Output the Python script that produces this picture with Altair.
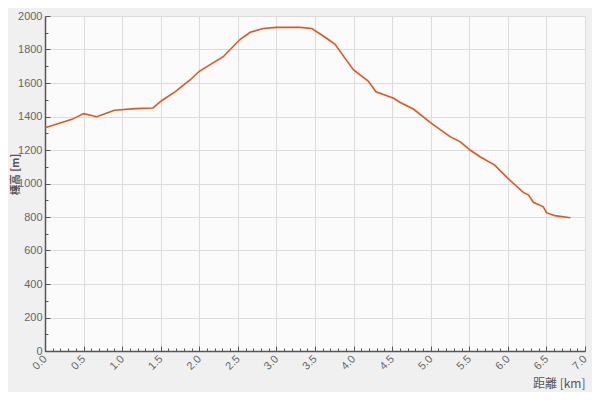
import altair as alt
import pandas as pd

# Distance along route [km] and elevation [m]
distance_km = [0.0, 0.35, 0.5, 0.67, 0.9, 1.17, 1.4, 1.51, 1.69, 1.88, 2.0, 2.31, 2.53,
               2.66, 2.83, 3.0, 3.3, 3.46, 3.65, 3.76, 3.89, 4.0, 4.19, 4.29, 4.52,
               4.6, 4.78, 5.01, 5.25, 5.38, 5.51, 5.64, 5.83, 6.0, 6.2, 6.27, 6.33,
               6.46, 6.5, 6.61, 6.81]
elevation_m = [1333, 1383, 1417, 1399, 1437, 1447, 1451, 1494, 1548, 1618, 1670, 1757, 1861,
               1903, 1925, 1932, 1932, 1925, 1867, 1831, 1747, 1678, 1612, 1548, 1509,
               1485, 1443, 1359, 1280, 1250, 1200, 1160, 1110, 1031, 947, 931, 888,
               861, 826, 808, 796]

x_major = [0.0, 0.5, 1.0, 1.5, 2.0, 2.5, 3.0, 3.5, 4.0, 4.5, 5.0, 5.5, 6.0, 6.5, 7.0]
x_minor = [round(i * 0.1, 1) for i in range(71)]
y_major = [0, 200, 400, 600, 800, 1000, 1200, 1400, 1600, 1800, 2000]
y_minor = list(range(0, 2001, 100))

x_title = "距離 [km]"
y_title = "標高 [m]"

df = pd.DataFrame({"d": distance_km, "e": elevation_m})

W, H = 540, 335
LABEL_FONT = "Liberation Sans"
TITLE_FONT = "Noto Sans CJK JP"

x_scale = alt.Scale(domain=[0, 7], nice=False)
y_scale = alt.Scale(domain=[0, 2000], nice=False)

main = alt.Chart(df).mark_line(color="#e0571d", strokeWidth=1.6).encode(
    x=alt.X("d:Q", scale=x_scale,
            axis=alt.Axis(values=x_major, format=".1f", labelAngle=-45, labelAlign="right",
                          labelBaseline="middle", labelPadding=6, labelFont=LABEL_FONT,
                          labelFontSize=11, labelColor="#666666", tickSize=0,
                          domainColor="#555555", domainWidth=1.5,
                          grid=True, gridColor="#dcdcdc", gridWidth=1,
                          title=x_title, titleFont=TITLE_FONT, titleFontSize=12,
                          titleFontWeight="normal", titleColor="#555555",
                          titleX=W, titleY=32, titleAlign="right", titleBaseline="middle")),
    y=alt.Y("e:Q", scale=y_scale,
            axis=alt.Axis(values=y_major, format="d", labelFont=LABEL_FONT, labelFontSize=11,
                          labelColor="#666666", labelPadding=3, tickSize=0,
                          domainColor="#555555", domainWidth=1.5,
                          grid=True, gridColor="#dcdcdc", gridWidth=1,
                          title=y_title, titleFont=TITLE_FONT, titleFontSize=10.5,
                          titleFontWeight="bold", titleColor="#555555",
                          titleX=-29.5, titleY=158, titleAngle=-90,
                          titleAlign="center", titleBaseline="middle")),
)

ticks = alt.Chart(df).mark_line(opacity=0).encode(
    x=alt.X("d:Q", scale=x_scale,
            axis=alt.Axis(orient="top", offset=-H, values=x_minor, labels=False,
                          domain=False, grid=False, title=None, tickColor="#555555",
                          tickWidth=1,
                          tickSize={"condition": {"test": "abs(datum.value*2 - round(datum.value*2)) < 0.01",
                                                  "value": 5}, "value": 3})),
    y=alt.Y("e:Q", scale=y_scale,
            axis=alt.Axis(orient="right", offset=-W, values=y_minor, labels=False,
                          domain=False, grid=False, title=None, tickColor="#555555",
                          tickWidth=1,
                          tickSize={"condition": {"test": "datum.value % 200 == 0",
                                                  "value": 5}, "value": 3})),
)

chart = alt.layer(main, ticks).resolve_axis(x="independent", y="independent").properties(
    width=W, height=H,
    background="#f0f0f0",
    autosize=alt.AutoSizeParams(type="none"),
    padding={"left": 37, "top": 8, "right": 7, "bottom": 41},
).configure_view(fill="#fbfbfb", stroke=None)

chart.save("out.html", embed_options={"renderer": "svg", "actions": False})
